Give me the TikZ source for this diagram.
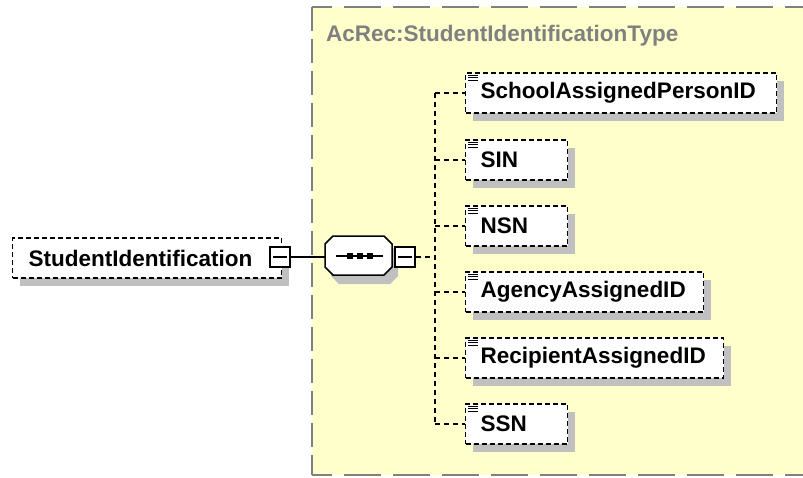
\documentclass[tikz,border=0pt]{standalone}
\usepackage{fontspec}
\setmainfont{Liberation Sans}
\usetikzlibrary{shadows,calc}
\definecolor{boxyellow}{RGB}{255,255,204}
\definecolor{edgegray}{RGB}{128,128,128}
\definecolor{shadegray}{RGB}{192,192,192}
\begin{document}
\begin{tikzpicture}[x=1pt,y=-1pt,
  lbl/.style={font=\bfseries\fontsize{22.5}{24}\selectfont},
  shade/.style={drop shadow={shadow xshift=7pt, shadow yshift=-8pt, fill=shadegray, opacity=1}},
  elem/.style={lbl, draw=black, fill=white, line width=1.4pt, dash pattern=on 5pt off 3pt,
    minimum height=40pt, inner xsep=0pt, inner ysep=0pt, anchor=west, text width=#1, align=left, shade},
  minusbox/.style={draw=black, fill=white, line width=1.6pt, minimum size=20pt, inner sep=0pt},
  conn/.style={line width=1.4pt, dash pattern=on 5pt off 4pt},
  solidconn/.style={line width=1.5pt},
  iconline/.style={line width=1pt},
  hedge/.style={edgegray, line width=1.6pt, dash pattern=on 37pt off 12pt, dash phase=17pt},
  vedge/.style={edgegray, line width=1.6pt, dash pattern=on 24pt off 8pt},
]
\useasboundingbox (0,0) rectangle (803,477);
\clip (0,0) rectangle (803,477);
% complex type frame
\fill[boxyellow] (312,7) rectangle (812,475);
\coordinate (ftl) at (312,7);
\coordinate (ftr) at (812,7);
\coordinate (fbl) at (312,475);
\coordinate (fbr) at (812,475);
\draw[hedge] (ftl) -- (ftr);
\draw[hedge] (fbl) -- (fbr);
\draw[vedge] (ftl) -- (fbl);
\node[lbl, text=edgegray, anchor=west, inner sep=0pt] (title) at (326,36) {AcRec:StudentIdentificationType};

% root element
\node[elem=269pt] (root) at (12,258) {\hspace*{16pt}StudentIdentification};
\node[minusbox] (m1) at (280,257) {};
\draw[solidconn] ([xshift=4pt]m1.west) -- ([xshift=-4pt]m1.east);

% sequence compositor
\coordinate (seqw) at (325,257);
\coordinate (seqe) at (392,257);
\fill[shadegray, shift={(6,9)}] (333,236) -- (384,236) -- (392,244) -- (392,267) -- (384,275)
  -- (333,275) -- (325,267) -- (325,244) -- cycle;
\draw[solidconn, fill=white] (333,236) -- (384,236) -- (392,244) -- (392,267) -- (384,275)
  -- (333,275) -- (325,267) -- (325,244) -- cycle;
\coordinate (seql) at (336,256);
\coordinate (seqr) at (383,256);
\draw[solidconn] (seql) -- (seqr);
\foreach \sx in {350,360,370} \fill (\sx-3,253) rectangle (\sx+3,259);
\node[minusbox] (m2) at (405,257) {};
\draw[solidconn] ([xshift=4pt]m2.west) -- ([xshift=-4pt]m2.east);
\draw[solidconn] (m1.east) -- (seqw);

% children
\node[elem=311pt] (c1) at (465,93) {\hspace*{15pt}SchoolAssignedPersonID};
\node[elem=102pt] (c2) at (465,160) {\hspace*{15pt}SIN};
\node[elem=102pt] (c3) at (465,226) {\hspace*{15pt}NSN};
\node[elem=238pt] (c4) at (465,292) {\hspace*{15pt}AgencyAssignedID};
\node[elem=258pt] (c5) at (465,358) {\hspace*{15pt}RecipientAssignedID};
\node[elem=102pt] (c6) at (465,424) {\hspace*{15pt}SSN};
\foreach \n in {c1,c2,c3,c4,c5,c6} {
  \foreach \k in {3,5.5,8} \draw[iconline] ([shift={(3pt,-\k pt)}]\n.north west) -- ++(10,0);
}

% tree
\coordinate (trunk) at (435,257);
\draw[conn] (m2.east) -- (trunk);
\draw[conn] (c1.west -| trunk) -- (c6.west -| trunk);
\foreach \n in {c1,c2,c3,c4,c5,c6} \draw[conn] (\n.west -| trunk) -- (\n.west);
\end{tikzpicture}
\end{document}
